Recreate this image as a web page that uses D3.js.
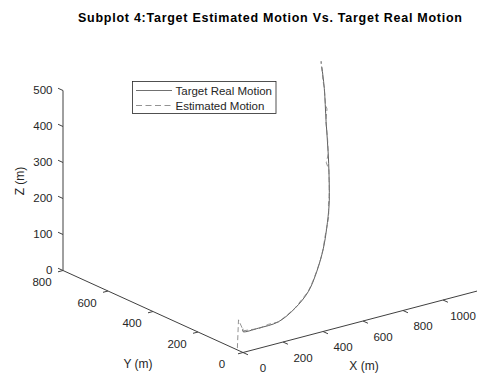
<!DOCTYPE html>
<html><head><meta charset="utf-8">
<script src="https://cdn.jsdelivr.net/npm/d3@7"></script>
<style>body{margin:0;background:#fff}svg{display:block;font-family:"Liberation Sans",Arial,sans-serif}</style>
</head><body><svg id="c" width="477" height="373"></svg>
<script>
// Data (metres)
const realX = [0, 0, 80, 188, 305, 405, 492, 582, 649, 723, 769, 854, 933, 1014, 1069];
const realY = [0, 0, 3, 10, 40, 70, 110, 160, 205, 260, 300, 380, 460, 540, 600];
const realZ = [66, 58, 55, 55, 67, 90, 121, 159, 192, 230, 259, 316, 374, 432, 467];

const estX = [0, 0, 2, 40, 82, 135, 190, 248, 306, 355, 406, 450, 494, 540, 583, 615, 650, 690, 722, 748, 770, 812, 835, 856, 895, 934, 960, 975, 1015, 1030, 1050, 1070, 1060, 1066];
const estY = [25, 20, 0, 2, 4, 6, 11, 24, 41, 55, 71, 90, 112, 135, 161, 183, 206, 232, 262, 282, 301, 340, 372, 382, 420, 462, 480, 500, 541, 560, 580, 602, 595, 600];
const estZ = [5, 85, 60, 57, 53, 57, 54, 61, 67, 79, 90, 106, 121, 142, 159, 177, 192, 212, 231, 245, 259, 292, 300, 318, 347, 373, 400, 402, 434, 444, 453, 466, 485, 470];

const xTicks = [0, 200, 400, 600, 800, 1000];
const yTicks = [0, 200, 400, 600, 800];
const zTicks = [0, 100, 200, 300, 400, 500];
const seriesNames = ["Target Real Motion", "Estimated Motion"];

const svg = d3.select("#c");
const O = [243, 352.5];
const vX = [240, -63], vY = [-180, -82], vZ = [0, -180];
const xs = d3.scaleLinear().domain([0, 1200]).range([0, 1]);
const ys = d3.scaleLinear().domain([0, 800]).range([0, 1]);
const zs = d3.scaleLinear().domain([0, 500]).range([0, 1]);
function P(x, y, z) {
  const a = xs(x), b = ys(y), c = zs(z);
  return [O[0] + a*vX[0] + b*vY[0] + c*vZ[0], O[1] + a*vX[1] + b*vY[1] + c*vZ[1]];
}
const axisCol = "#404040", textCol = "#262626";

function seg(p, q, col, w) {
  svg.append("line").attr("x1", p[0]).attr("y1", p[1]).attr("x2", q[0]).attr("y2", q[1])
    .attr("stroke", col).attr("stroke-width", w || 1);
}
seg(P(0,0,0), P(1200,0,0), axisCol);
seg(P(0,0,0), P(0,800,0), axisCol);
seg(P(0,800,0), P(0,800,500), axisCol);

const fs = 11.5;
xTicks.forEach(t => {
  const p = P(t, 0, 0), q = P(t, -22, 0);
  seg(p, q, axisCol);
  svg.append("text").attr("x", p[0] + 20).attr("y", p[1] + 19.5).attr("text-anchor", "middle")
    .attr("font-size", fs).attr("fill", textCol).text(t);
});
yTicks.forEach(t => {
  const p = P(0, t, 0), q = P(-25, t, 0);
  seg(p, q, axisCol);
  svg.append("text").attr("x", p[0] - 21).attr("y", p[1] + 15.5).attr("text-anchor", "middle")
    .attr("font-size", fs).attr("fill", textCol).text(t);
});
zTicks.forEach(t => {
  const p = P(0, 800, t), q = P(0, 822, t);
  seg(p, q, axisCol);
  svg.append("text").attr("x", p[0] - 10.5).attr("y", p[1] + 3).attr("text-anchor", "end")
    .attr("font-size", fs).attr("fill", textCol).text(t);
});

svg.append("text").attr("x", 364).attr("y", 370).attr("text-anchor", "middle")
  .attr("font-size", 12).attr("fill", textCol).text("X (m)");
svg.append("text").attr("x", 138).attr("y", 368).attr("text-anchor", "middle")
  .attr("font-size", 12).attr("fill", textCol).text("Y (m)");
svg.append("text").attr("transform", "translate(24,181) rotate(-90)").attr("text-anchor", "middle")
  .attr("font-size", 12).attr("fill", textCol).text("Z (m)");

const realPts = realX.map((x, i) => P(x, realY[i], realZ[i]));
const estPts = estX.map((x, i) => P(x, estY[i], estZ[i]));
svg.append("path").attr("d", d3.line().curve(d3.curveCatmullRom)(realPts))
  .attr("fill", "none").attr("stroke", "#4d4d4d").attr("stroke-width", 0.9);
svg.append("path").attr("d", d3.line()(estPts))
  .attr("fill", "none").attr("stroke", "#777").attr("stroke-width", 0.8).attr("stroke-dasharray", "5,3");

svg.append("text").attr("x", 78).attr("y", 22)
  .attr("font-size", 12.5).attr("font-weight", "bold").attr("fill", "#000")
  .attr("textLength", 384).attr("lengthAdjust", "spacing")
  .text("Subplot 4:Target Estimated Motion Vs. Target Real Motion");

svg.append("rect").attr("x", 132.5).attr("y", 81.5).attr("width", 143.5).attr("height", 32)
  .attr("fill", "#fff").attr("stroke", "#262626").attr("stroke-width", 0.8);
seriesNames.forEach((n, i) => {
  const y = 90.5 + i * 15;
  svg.append("line").attr("x1", 136).attr("x2", 172).attr("y1", y).attr("y2", y)
    .attr("stroke", i ? "#777" : "#4d4d4d").attr("stroke-width", 0.8)
    .attr("stroke-dasharray", i ? "6,3.5" : null);
  svg.append("text").attr("x", 175.5).attr("y", y + 4).attr("font-size", 11.5)
    .attr("fill", textCol).text(n);
});
</script></body></html>
